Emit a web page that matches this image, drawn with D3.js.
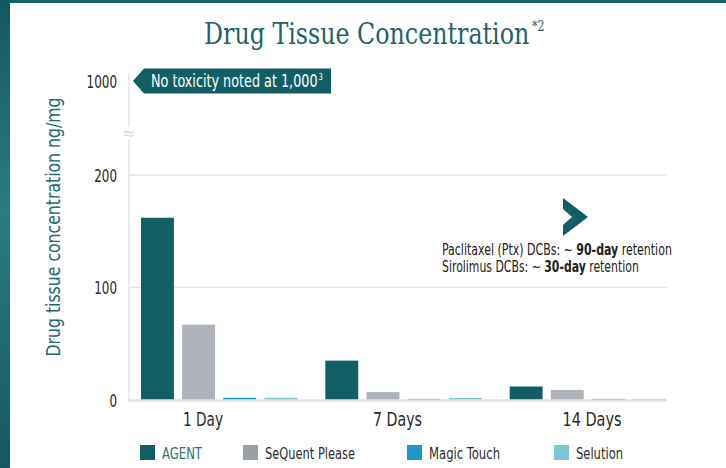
<!DOCTYPE html>
<html>
<head>
<meta charset="utf-8">
<script src="https://cdn.jsdelivr.net/npm/d3@7"></script>
<style>
  html, body { margin: 0; padding: 0; background: #fff; }
  svg { display: block; }
  .cond { font-family: "Liberation Sans Narrow", "DejaVu Sans Condensed", "Roboto", sans-serif; }
</style>
</head>
<body>
<svg id="chart" width="726" height="468"></svg>
<script>
// data
const categories = ['1 Day', '7 Days', '14 Days'];
const seriesNames = ['AGENT', 'SeQuent Please', 'Magic Touch', 'Selution'];
const agent = [162, 35, 12];
const sequent = [67, 7, 9];
const magicTouch = [2, 1, 1];
const selution = [2, 1.8, 1];
const yTicks = [0, 100, 200, 1000];
const colors = ['#125e65', '#aeb3b9', '#1b97c9', '#7bc6d8'];

const values = [agent, sequent, magicTouch, selution];

const svg = d3.select('#chart');
const teal = '#125e65';

// squeeze a text to the width it has in the reference (the original face is condensed)
function fit(sel, w) {
  sel.attr('textLength', w).attr('lengthAdjust', 'spacingAndGlyphs');
}
// same idea for texts made of several tspans: scale the whole element
function squeeze(sel, x, y, w) {
  const natural = sel.node().getComputedTextLength();
  sel.attr('x', 0).attr('y', 0)
    .attr('transform', `translate(${x},${y}) scale(${w / natural},1)`);
}

// frame: top band + left strip
const grad = svg.append('defs').append('linearGradient')
  .attr('id', 'strip').attr('x1', 0).attr('x2', 0).attr('y1', 0).attr('y2', 1);
grad.append('stop').attr('offset', '0%').attr('stop-color', '#14585f');
grad.append('stop').attr('offset', '45%').attr('stop-color', '#2a7c82');
grad.append('stop').attr('offset', '100%').attr('stop-color', '#15585f');
svg.append('rect').attr('x', 0).attr('y', 0).attr('width', 726).attr('height', 3).attr('fill', '#17606a');
svg.append('rect').attr('x', 0).attr('y', 0).attr('width', 10).attr('height', 468).attr('fill', 'url(#strip)');

// title
const title = svg.append('text')
  .attr('fill', '#1d6369')
  .style('font-family', '"DejaVu Serif Condensed", "DejaVu Serif", serif')
  .style('font-size', '30px');
title.append('tspan').text('Drug Tissue Concentration');
title.append('tspan').attr('dx', 3).attr('dy', -13).style('font-size', '14px').text('*2');
title.call(squeeze, 204, 44, 338);

// scales
const x0 = d3.scaleBand().domain(categories).range([127, 680]).paddingInner(0.152).paddingOuter(0.076);
const x1 = d3.scaleBand().domain(seriesNames).range([0, x0.bandwidth()]).paddingInner(0.2);
const xLabel = d3.scalePoint().domain(categories).range([203, 592]);
// broken axis: 0-200 linear, then jump to 1000
const y = d3.scaleLinear().domain([0, 200, 1000]).range([400, 175, 81]);

const plotLeft = 130, plotRight = 667;

// gridlines
svg.append('g').selectAll('line')
  .data(yTicks.filter(d => d > 0 && d < 1000))
  .join('line')
  .attr('x1', plotLeft).attr('x2', plotRight)
  .attr('y1', d => y(d)).attr('y2', d => y(d))
  .attr('stroke', '#e3e5e9').attr('stroke-width', 1.5);

// y axis line with break
svg.append('line')
  .attr('x1', plotLeft - 1).attr('x2', plotLeft - 1)
  .attr('y1', y(1000) - 8).attr('y2', y(0))
  .attr('stroke', '#e3e5e9').attr('stroke-width', 1.5);
svg.append('rect')
  .attr('x', plotLeft - 8).attr('y', y(560) - 6).attr('width', 14).attr('height', 12)
  .attr('fill', '#fff');
svg.append('text')
  .attr('x', plotLeft - 1).attr('y', y(560) + 6)
  .attr('text-anchor', 'middle')
  .attr('fill', '#d5d8dc')
  .style('font-family', 'DejaVu Sans, sans-serif')
  .style('font-size', '16px')
  .text('\u2248');

// y tick labels
svg.append('g').attr('class', 'cond').selectAll('text')
  .data(yTicks)
  .join('text')
  .attr('x', 117).attr('y', d => y(d) + 6.5)
  .attr('text-anchor', 'end')
  .attr('fill', '#2b2b2b')
  .style('font-size', '18px')
  .text(d => d)
  .each(function (d) { d3.select(this).call(fit, String(d).length * 7.6); });

// y title
svg.append('text')
  .attr('class', 'cond')
  .attr('transform', `translate(60, ${227}) rotate(-90)`)
  .attr('text-anchor', 'middle')
  .attr('fill', '#1d6b71')
  .style('font-size', '20px')
  .text('Drug tissue concentration ng/mg')
  .call(fit, 259);

// bars
const groups = svg.append('g').selectAll('g')
  .data(categories)
  .join('g')
  .attr('transform', d => `translate(${x0(d)},0)`);

groups.selectAll('rect')
  .data((c, i) => seriesNames.map((s, j) => ({ s, j, v: values[j][i] })))
  .join('rect')
  .attr('x', d => x1(d.s))
  .attr('width', x1.bandwidth())
  .attr('y', d => y(d.v))
  .attr('height', d => y(0) - y(d.v))
  .attr('fill', d => colors[d.j]);

// baseline
svg.append('line')
  .attr('x1', plotLeft - 2).attr('x2', plotRight)
  .attr('y1', y(0) + 0.5).attr('y2', y(0) + 0.5)
  .attr('stroke', '#e1e4e8').attr('stroke-width', 2.5);

// category labels
const catWidths = [40, 49, 59];
svg.append('g').attr('class', 'cond').selectAll('text')
  .data(categories)
  .join('text')
  .attr('x', d => xLabel(d))
  .attr('y', 426)
  .attr('text-anchor', 'middle')
  .attr('fill', '#2b2b2b')
  .style('font-size', '20px')
  .text(d => d)
  .each(function (d, i) { d3.select(this).call(fit, catWidths[i]); });

// callout at 1000
const cy = y(1000);
svg.append('path')
  .attr('d', `M${plotLeft + 3},${cy} L${plotLeft + 14},${cy - 12.5} L331,${cy - 12.5} L331,${cy + 12.5} L${plotLeft + 14},${cy + 12.5} Z`)
  .attr('fill', teal);
const call = svg.append('text')
  .attr('class', 'cond')
  .attr('fill', '#fff')
  .style('font-size', '17px');
call.append('tspan').text('No toxicity noted at 1,000');
call.append('tspan').attr('dx', 1).attr('dy', -7).style('font-size', '9px').text('3');
call.call(squeeze, 151, cy + 6, 171);

// retention note
svg.append('path')
  .attr('d', 'M563,198 L588,217 L563,236 L563,225 L572,217 L563,209 Z')
  .attr('fill', teal);
const note = svg.append('g').attr('class', 'cond').style('font-size', '15.5px').attr('fill', '#222');
const l1 = note.append('text');
l1.append('tspan').text('Paclitaxel (Ptx)  DCBs: ~ ');
l1.append('tspan').style('font-weight', 'bold').text('90-day');
l1.append('tspan').text(' retention');
l1.call(squeeze, 442, 255, 230);
const l2 = note.append('text');
l2.append('tspan').text('Sirolimus DCBs: ~ ');
l2.append('tspan').style('font-weight', 'bold').text('30-day');
l2.append('tspan').text(' retention');
l2.call(squeeze, 442, 272, 197);

// legend
const legendX = [140, 243, 407, 554];
const legendW = [40, 90, 71, 47];
const legend = svg.append('g').attr('class', 'cond').selectAll('g')
  .data(seriesNames)
  .join('g')
  .attr('transform', (d, i) => `translate(${legendX[i]},445)`);
legend.append('rect')
  .attr('width', 15).attr('height', 15)
  .attr('fill', (d, i) => i === 1 ? '#9ba0a6' : colors[i]);
legend.append('text')
  .attr('x', 22)
  .attr('y', 13.5)
  .attr('fill', (d, i) => i === 0 ? '#2a7379' : '#2b2b2b')
  .style('font-size', '16.5px')
  .text(d => d)
  .each(function (d, i) { d3.select(this).call(fit, legendW[i]); });
</script>
</body>
</html>
